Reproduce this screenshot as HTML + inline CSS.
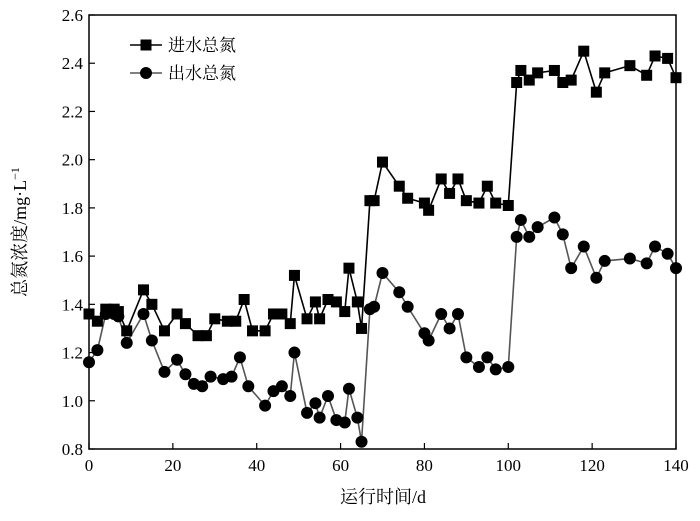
<!DOCTYPE html>
<html><head><meta charset="utf-8"><style>
body{margin:0;background:#fff}
svg text{font-family:"Liberation Serif","Noto Serif CJK SC",serif;fill:#000}
</style></head><body>
<svg id="c" width="700" height="516" xmlns="http://www.w3.org/2000/svg"></svg>
<script>
const daysIn=[0,2,4,6,7,9,13,15,18,21,23,26,28,30,33,35,37,39,42,44,46,48,49,52,54,55,57,59,61,62,64,65,67,68,70,74,76,80,81,84,86,88,90,93,95,97,100,102,103,105,107,111,113,115,118,121,123,129,133,135,138,140];
const influent=[1.36,1.33,1.38,1.38,1.37,1.29,1.46,1.40,1.29,1.36,1.32,1.27,1.27,1.34,1.33,1.33,1.42,1.29,1.29,1.36,1.36,1.32,1.52,1.34,1.41,1.34,1.42,1.41,1.37,1.55,1.41,1.30,1.83,1.83,1.99,1.89,1.84,1.82,1.79,1.92,1.86,1.92,1.83,1.82,1.89,1.82,1.81,2.32,2.37,2.33,2.36,2.37,2.32,2.33,2.45,2.28,2.36,2.39,2.35,2.43,2.42,2.34];
const daysOut=[0,2,4,6,7,9,13,15,18,21,23,25,27,29,32,34,36,38,42,44,46,48,49,52,54,55,57,59,61,62,64,65,67,68,70,74,76,80,81,84,86,88,90,93,95,97,100,102,103,105,107,111,113,115,118,121,123,129,133,135,138,140];
const effluent=[1.16,1.21,1.36,1.36,1.35,1.24,1.36,1.25,1.12,1.17,1.11,1.07,1.06,1.10,1.09,1.10,1.18,1.06,0.98,1.04,1.06,1.02,1.20,0.95,0.99,0.93,1.02,0.92,0.91,1.05,0.93,0.83,1.38,1.39,1.53,1.45,1.39,1.28,1.25,1.36,1.30,1.36,1.18,1.14,1.18,1.13,1.14,1.68,1.75,1.68,1.72,1.76,1.69,1.55,1.64,1.51,1.58,1.59,1.57,1.64,1.61,1.55];
const xTicks=[0,20,40,60,80,100,120,140];
const yTicks=[0.8,1.0,1.2,1.4,1.6,1.8,2.0,2.2,2.4,2.6];
const X0=89,X1=676,Y0=449,Y1=15;
const sx=d=>X0+(d-0)/140*(X1-X0);
const sy=v=>Y0-(v-0.8)/1.8*(Y0-Y1);
const svg=document.getElementById('c');
const NS='http://www.w3.org/2000/svg';
function mk(t,a,p){const e=document.createElementNS(NS,t);for(const k in a)e.setAttribute(k,a[k]);(p||svg).appendChild(e);return e;}
const frame=mk('rect',{x:X0,y:Y1,width:X1-X0,height:Y0-Y1,fill:'none',stroke:'#000','stroke-width':1.5});


xTicks.forEach(t=>{
  const l=mk('line',{x1:sx(t),x2:sx(t),y1:Y0,y2:Y0-6,stroke:'#000','stroke-width':1.2});
  
  
  const tx=mk('text',{x:sx(t),y:Y0+22,'text-anchor':'middle','font-size':17});
  tx.textContent=t;
  
  
});
yTicks.forEach(t=>{
  const l=mk('line',{x1:X0,x2:X0+6,y1:sy(t),y2:sy(t),stroke:'#000','stroke-width':1.2});
  
  
  const tx=mk('text',{x:X0-6,y:sy(t)+6,'text-anchor':'end','font-size':17});
  tx.textContent=t.toFixed(1);
  
  
});
function series(xs,ys,color,shape,name){
  const pl=mk('polyline',{points:xs.map((d,i)=>sx(d)+','+sy(ys[i])).join(' '),fill:'none',stroke:color,'stroke-width':1.6});
  
  
  xs.forEach((d,i)=>{
    let m;
    if(shape==='sq')m=mk('rect',{x:sx(d)-5.5,y:sy(ys[i])-5.5,width:11,height:11,fill:'#000'});
    else m=mk('circle',{cx:sx(d),cy:sy(ys[i]),r:6,fill:'#000'});
    
    
  });
}
series(daysOut,effluent,'#555','ci','effluent');
series(daysIn,influent,'#000','sq','influent');
</script>
<svg width="700" height="516" style="position:absolute;left:0;top:0" xmlns="http://www.w3.org/2000/svg">
<g>
<line x1="130" y1="45" x2="162" y2="45" stroke="#000" stroke-width="1.6"/>
<rect x="140.5" y="39.5" width="11" height="11" fill="#000"/>
<text x="168" y="51" font-size="17" font-family="Liberation Serif,Noto Serif CJK SC,serif">进水总氮</text>
<line x1="130" y1="73" x2="162" y2="73" stroke="#555" stroke-width="1.6"/>
<circle cx="146" cy="73" r="6" fill="#000"/>
<text x="168" y="79" font-size="17" font-family="Liberation Serif,Noto Serif CJK SC,serif">出水总氮</text>
</g>
<text x="383" y="503" text-anchor="middle" font-size="18" font-family="Liberation Serif,Noto Serif CJK SC,serif">运行时间/d</text>
<text transform="translate(26,232) rotate(-90)" text-anchor="middle" font-size="18" font-family="Liberation Serif,Noto Serif CJK SC,serif">总氮浓度/mg·L<tspan dy="-7" font-size="12">−1</tspan></text>
</svg>
</body></html>
